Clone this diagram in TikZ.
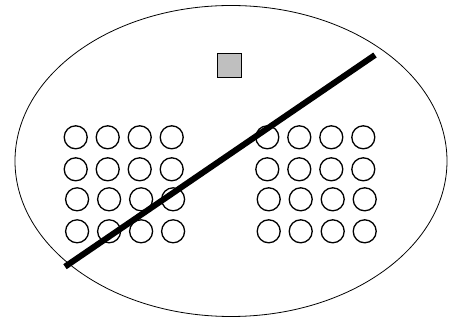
\documentclass[tikz,border=0pt]{standalone}
\usepackage{tikz}
\usetikzlibrary{shapes.geometric,positioning}

\begin{document}
\begin{tikzpicture}[
      x=1pt, y=-1pt,
      hall/.style={ellipse, draw=black, line width=0.8pt, inner sep=0pt,
          minimum width=432pt, minimum height=311pt},
      podium/.style={rectangle, draw=black, line width=1.2pt, fill=black!25,
          inner sep=0pt, minimum size=23.5pt},
      seat/.style={circle, draw=black, line width=1.3pt, inner sep=0pt,
          minimum size=23pt},
      divider/.style={line width=6pt, draw=black}
  ]
  \useasboundingbox (0,0) rectangle (455,320);
  \node[hall] (hall) at (231,161) {};
  \node[podium] (podium) at (229.5,65.5) {};
  % left block and right block of seats, 4 rows each
  \foreach \r/\y/\dx in {1/137.3/0, 2/169.3/0, 3/199.3/1.4, 4/231.3/1.4} {
    \foreach \c in {1,...,4} {
      \node[seat] (left-\r-\c) at ({75.7+32*(\c-1)+\dx},\y) {};
      \node[seat] (right-\r-\c) at ({267.3+32*(\c-1)+\dx},\y) {};
    }
  }
  \coordinate (cut-a) at (65,266.7);
  \coordinate (cut-b) at (375,55);
  \draw[divider] (cut-a) -- (cut-b);
\end{tikzpicture}
\end{document}
